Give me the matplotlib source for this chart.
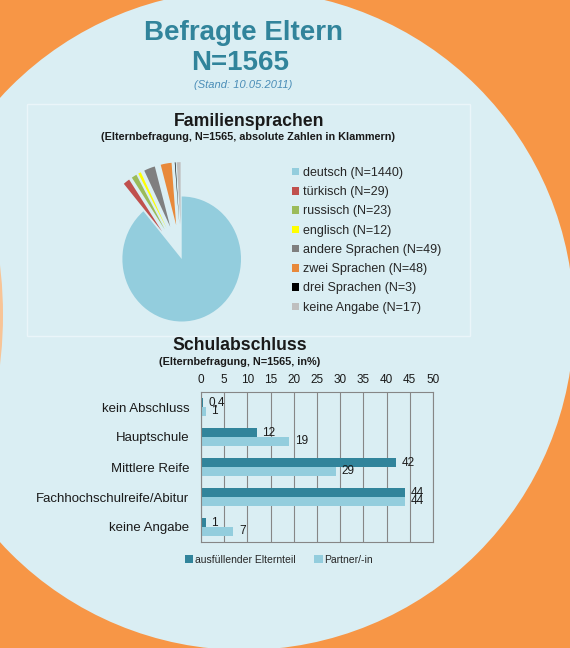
import matplotlib
matplotlib.use("Agg")
import matplotlib.pyplot as plt
from matplotlib.patches import Circle, Rectangle
import numpy as np

plt.rcParams['font.family'] = ['Liberation Sans', 'DejaVu Sans']

# ---------- data ----------
sprachen = ["deutsch", "türkisch", "russisch", "englisch",
            "andere Sprachen", "zwei Sprachen", "drei Sprachen", "keine Angabe"]
sprachen_n = [1440, 29, 23, 12, 49, 48, 3, 17]
sprachen_farben = ["#93CDDD", "#C0504D", "#9BBB59", "#FFFF00",
                   "#7F7F7F", "#E8893A", "#000000", "#BFBFBF"]
deutsch_anteil = "92 %"

abschluss = ["kein Abschluss", "Hauptschule", "Mittlere Reife",
             "Fachhochschulreife/Abitur", "keine Angabe"]
elternteil = [0.4, 12, 42, 44, 1]
partner = [1, 19, 29, 44, 7]
elternteil_labels = ["0,4", "12", "42", "44", "1"]
partner_labels = ["1", "19", "29", "44", "7"]
x_ticks = list(range(0, 51, 5))

# ---------- colours ----------
ORANGE = "#F79646"
HELLBLAU = "#DAEEF3"
TEAL = "#31849B"
TEXT = "#1A1A1A"

W, H = 570, 648
fig = plt.figure(figsize=(W / 100, H / 100), dpi=100)
fig.patch.set_facecolor(ORANGE)


# axes from pixel box (left, top, right, bottom)
def px_axes(left, top, right, bottom):
    return fig.add_axes([left / W, 1 - bottom / H, (right - left) / W, (bottom - top) / H])


# background with the big circle
ax_bg = fig.add_axes([0, 0, 1, 1])
ax_bg.set_xlim(0, W)
ax_bg.set_ylim(H, 0)
ax_bg.axis('off')
ax_bg.add_patch(Circle((244, 320), 330, color=HELLBLAU, lw=0))
# faint orange edge peeking in on the left
ax_bg.add_patch(Circle((-415, 315), 418, color="#F8C496", lw=0))
ax_bg.add_patch(Rectangle((27, 104), 443, 232, fill=False, ec="#EAF5F9", lw=1))

ax_bg.text(243, 33, "Befragte Eltern", ha='center', va='center', fontsize=20,
           fontweight='bold', color=TEAL)
ax_bg.text(240, 63, "N=1565", ha='center', va='center', fontsize=20,
           fontweight='bold', color=TEAL)
ax_bg.text(243, 85, "(Stand: 10.05.2011)", ha='center', va='center', fontsize=8,
           style='italic', color="#4A8DB7")

ax_bg.text(249, 121, "Familiensprachen", ha='center', va='center', fontsize=12.7,
           fontweight='bold', color=TEXT)
ax_bg.text(248, 137, "(Elternbefragung, N=1565, absolute Zahlen in Klammern)",
           ha='center', va='center', fontsize=7.8, fontweight='bold', color=TEXT)
ax_bg.text(240, 345, "Schulabschluss", ha='center', va='center', fontsize=12.7,
           fontweight='bold', color=TEXT)
ax_bg.text(240, 362, "(Elternbefragung, N=1565, in%)", ha='center', va='center',
           fontsize=7.8, fontweight='bold', color=TEXT)

# ---------- pie (slightly taller than wide, like the source) ----------
cx, cy, rx, ry = 181.7, 259, 59.3, 62.5
ax_pie = px_axes(cx - 2 * rx, cy - 2 * ry, cx + 2 * rx, cy + 2 * ry)
explode = [0] + [0.55] * (len(sprachen_n) - 1)
wedges, _ = ax_pie.pie(sprachen_n, colors=sprachen_farben, startangle=90,
                       counterclock=False, explode=explode, radius=1,
                       wedgeprops=dict(linewidth=0))
ax_pie.set_aspect('auto')
ax_pie.set_xlim(-2, 2)
ax_pie.set_ylim(-2, 2)
ax_pie.axis('off')
ax_bg.text(180, 273, deutsch_anteil, ha='center', va='center', fontsize=10, color=TEXT)

pie_labels = [f"{s} (N={n})" for s, n in zip(sprachen, sprachen_n)]
ax_pie.legend(wedges, pie_labels, loc='upper left',
              bbox_to_anchor=(292 / W, 1 - 167 / H), bbox_transform=fig.transFigure,
              frameon=False, fontsize=9, handlelength=0.55, handleheight=0.55,
              handletextpad=0.3, labelspacing=0.58, borderpad=0, borderaxespad=0,
              labelcolor="#262626")

# ---------- bars ----------
ax_bar = px_axes(201, 392, 433, 542)
y = np.arange(len(abschluss))
h = 0.29
b1 = ax_bar.barh(y - h / 2, elternteil, height=h, color=TEAL, label="ausfüllender Elternteil")
b2 = ax_bar.barh(y + h / 2, partner, height=h, color="#93CDDD", label="Partner/-in")
ax_bar.bar_label(b1, labels=elternteil_labels, padding=4, fontsize=8.5, color=TEXT)
ax_bar.bar_label(b2, labels=partner_labels, padding=4, fontsize=8.5, color=TEXT)
ax_bar.set_xlim(0, 50)
ax_bar.set_ylim(4.5, -0.5)
ax_bar.set_xticks(x_ticks)
ax_bar.xaxis.tick_top()
ax_bar.set_yticks(y, abschluss)
ax_bar.tick_params(axis='x', length=0, labelsize=8.5, pad=4, labelcolor=TEXT)
ax_bar.tick_params(axis='y', length=0, labelsize=9.5, pad=8.5, labelcolor=TEXT)
ax_bar.grid(axis='x', color="#868686", lw=0.8)
ax_bar.set_axisbelow(True)
ax_bar.set_facecolor('none')
for sp in ax_bar.spines.values():
    sp.set_color("#868686")
    sp.set_linewidth(0.8)

fig.legend(handles=[b1, b2], loc='center left', bbox_to_anchor=(185 / W, 1 - 560 / H),
           ncol=2, frameon=False, fontsize=7.5, handlelength=0.8, handleheight=0.8,
           handletextpad=0.15, columnspacing=1.8, borderpad=0, borderaxespad=0,
           labelcolor="#262626")

fig.savefig("out.png", dpi=100, facecolor=ORANGE)
